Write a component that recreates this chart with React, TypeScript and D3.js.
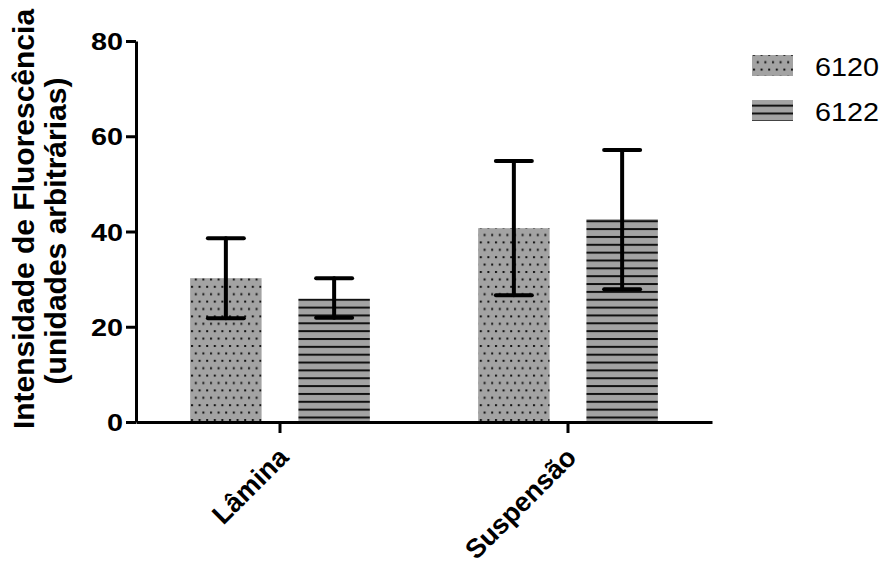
import React, { useEffect, useRef } from 'react';
import * as d3 from 'd3';

const categories = ['Lâmina', 'Suspensão'];
const seriesNames = ['6120', '6122'];
const mean6120 = [30.2, 40.7];
const mean6122 = [25.9, 42.6];
const low6120 = [21.8, 26.6];
const high6120 = [38.6, 54.8];
const low6122 = [21.9, 27.9];
const high6122 = [30.2, 57.1];
const yTicks = [0, 20, 40, 60, 80];
const titleLines = ['Intensidade de Fluorescência', '(unidades arbitrárias)'];

const GRAY = '#a3a3a3';
const FONT = '"Liberation Sans", Arial, sans-serif';

const App = () => {
  const svgRef = useRef<SVGSVGElement>(null);

  useEffect(() => {
    const svg = d3.select(svgRef.current);
    svg.selectAll('*').remove();

    const y = d3.scaleLinear().domain([0, 80]).range([422, 41]);
    const x0 = d3.scaleBand().domain(categories).range([136, 712]);
    const x1 = d3.scaleBand().domain(seriesNames).range([0, x0.step()])
      .paddingInner(0.34).paddingOuter(0.5);

    const rows = categories.map((c, i) => [
      { cat: c, s: '6120', v: mean6120[i], lo: low6120[i], hi: high6120[i] },
      { cat: c, s: '6122', v: mean6122[i], lo: low6122[i], hi: high6122[i] },
    ]).flat();

    // patterns (dots for 6120, horizontal lines for 6122)
    const defs = svg.append('defs');
    const dots = (id, ox, oy) => {
      const p = defs.append('pattern').attr('id', id).attr('patternUnits', 'userSpaceOnUse')
        .attr('x', ox).attr('y', oy).attr('width', 7.6).attr('height', 14.8);
      p.append('rect').attr('width', 7.6).attr('height', 14.8).attr('fill', GRAY);
      p.append('rect').attr('x', 1).attr('y', 0).attr('width', 2).attr('height', 2).attr('fill', '#111');
      p.append('rect').attr('x', 4.8).attr('y', 7.4).attr('width', 2).attr('height', 2).attr('fill', '#111');
    };
    const lines = (id, ox, oy) => {
      const p = defs.append('pattern').attr('id', id).attr('patternUnits', 'userSpaceOnUse')
        .attr('x', ox).attr('y', oy).attr('width', 10).attr('height', 7.85);
      p.append('rect').attr('width', 10).attr('height', 7.85).attr('fill', GRAY);
      p.append('rect').attr('y', 0).attr('width', 10).attr('height', 2).attr('fill', '#111');
    };
    dots('pat-6120', 0, y(0) - 3);
    lines('pat-6122', 0, y(0) - 5.5);
    dots('leg-6120', 0, 58);
    lines('leg-6122', 0, 106.7);

    const g = svg.append('g');
    g.selectAll('rect.bar').data(rows).enter().append('rect')
      .attr('class', 'bar')
      .attr('x', d => x0(d.cat) + x1(d.s))
      .attr('y', d => y(d.v))
      .attr('width', x1.bandwidth())
      .attr('height', d => y(0) - y(d.v))
      .attr('fill', d => `url(#pat-${d.s})`);

    // error bars
    const cx = d => x0(d.cat) + x1(d.s) + x1.bandwidth() / 2;
    const eb = g.selectAll('g.err').data(rows).enter().append('g')
      .attr('stroke', '#000').attr('stroke-width', 4).attr('stroke-linecap', 'round');
    eb.append('line').attr('x1', cx).attr('x2', cx).attr('y1', d => y(d.lo)).attr('y2', d => y(d.hi));
    eb.append('line').attr('x1', d => cx(d) - 18).attr('x2', d => cx(d) + 18)
      .attr('y1', d => y(d.hi)).attr('y2', d => y(d.hi));
    eb.append('line').attr('x1', d => cx(d) - 18).attr('x2', d => cx(d) + 18)
      .attr('y1', d => y(d.lo)).attr('y2', d => y(d.lo));

    // y axis
    const ya = svg.append('g').attr('transform', 'translate(136,0)')
      .call(d3.axisLeft(y).tickValues(yTicks).tickSize(10).tickSizeOuter(0).tickPadding(3));
    ya.selectAll('path, line').attr('stroke', '#000').attr('stroke-width', 3);
    // digits in the original are drawn wide: stretch them horizontally
    ya.selectAll('.tick text').attr('x', 0).attr('dy', '0.36em')
      .attr('transform', 'translate(-13,0) scale(1.2,1)')
      .attr('font-family', FONT).attr('font-size', 24)
      .attr('font-weight', 'bold').attr('fill', '#000');

    // x axis
    const xa = svg.append('g').attr('transform', `translate(0,${y(0)})`)
      .call(d3.axisBottom(x0).tickSize(11).tickSizeOuter(0).tickFormat(() => ''));
    xa.selectAll('path, line').attr('stroke', '#000').attr('stroke-width', 3);

    svg.append('g').selectAll('text').data(categories).enter().append('text')
      .attr('transform', d => `translate(${x0(d) + x0.bandwidth() / 2 + 10},459) rotate(-45)`)
      .attr('text-anchor', 'end')
      .attr('font-family', FONT).attr('font-size', 27).attr('font-weight', 'bold')
      .text(d => d);

    // y title
    svg.append('g').selectAll('text').data(titleLines).enter().append('text')
      .attr('transform', (d, i) => `translate(${34 + i * 32},${i === 0 ? 219 : 231}) rotate(-90)`)
      .attr('text-anchor', 'middle')
      .attr('font-family', FONT).attr('font-size', 30).attr('font-weight', 'bold')
      .text(d => d);

    // legend
    const leg = svg.append('g').selectAll('g').data(seriesNames).enter().append('g')
      .attr('transform', (d, i) => `translate(752,${55 + i * 45})`);
    leg.append('rect').attr('width', 41).attr('height', 21)
      .attr('fill', d => `url(#leg-${d})`);
    leg.append('text')
      .attr('transform', 'translate(63,21) scale(1.15,1)')
      .attr('font-family', FONT).attr('font-size', 25)
      .text(d => d);
  }, []);

  return (
    <svg ref={svgRef} width={888} height={568}
      style={{ position: 'absolute', left: 0, top: 0, background: 'white' }} />
  );
};

export default App;
